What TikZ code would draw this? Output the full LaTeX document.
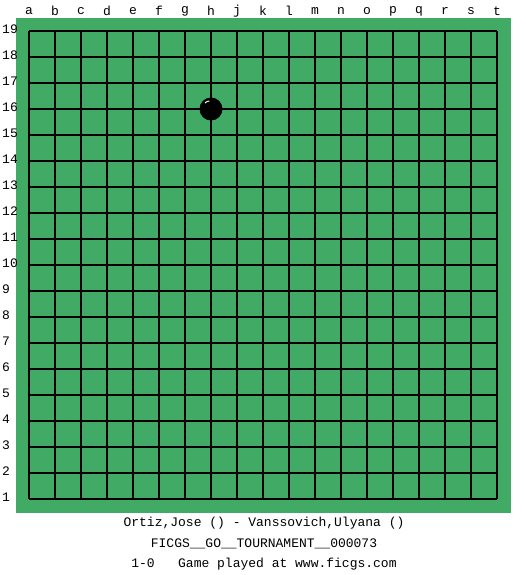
\documentclass[tikz,border=0pt]{standalone}
\usepackage{fontspec}
\setmonofont{Liberation Mono}
\definecolor{boardgreen}{RGB}{65,170,100}

\begin{document}
\begin{tikzpicture}[x=1pt, y=-1pt, font=\ttfamily\fontsize{13}{15}\selectfont]
    \useasboundingbox (0,0) rectangle (525,575);

    % 棋盘底色
    \fill[boardgreen] (16,18) rectangle (511,513);

    % 画网格线
    \foreach \i in {0,...,18} {
        \draw[line width=1.2pt] (29+26*\i,31) -- (29+26*\i,499);
        \draw[line width=1.2pt] (29,31+26*\i) -- (497,31+26*\i);
    }

    % 列标
    \foreach \c [count=\i from 0] in {a,b,c,d,e,f,g,h,j,k,l,m,n,o,p,q,r,s,t}
        \node (col\c) at (29+26*\i,11) {\c};

    % 行标
    \foreach \r in {1,...,19}
        \node[anchor=west, inner sep=0pt] (row\r) at (2,29+26*19-26*\r) {\r};

    % 黑子 h16
    \fill (211,109) circle (11.5);
    \draw[white, line width=1pt] (205,103) arc (225:265:7);

    % 对局信息
    \node (players) at (264,523) {Ortiz,Jose () - Vanssovich,Ulyana ()};
    \node (event) at (264,544) {FICGS\_\_GO\_\_TOURNAMENT\_\_000073};
    \node (result) at (264,564) {1-0\ \ \ Game played at www.ficgs.com};
\end{tikzpicture}
\end{document}
